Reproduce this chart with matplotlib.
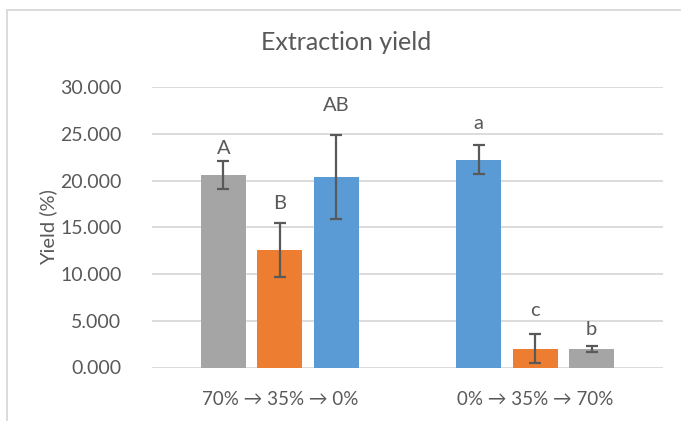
import matplotlib
matplotlib.use("Agg")
import matplotlib.pyplot as plt
from matplotlib.patches import Rectangle
import numpy as np

plt.rcParams['font.family'] = ['Lato', 'DejaVu Sans']

# Extraction sequences (x categories)
categories = ["70% \u2192 35% \u2192 0%", "0% \u2192 35% \u2192 70%"]

# Yield of each step within a sequence, in the order the steps were run
step_yield = [
    [20.60, 12.60, 20.35],   # 70% -> 35% -> 0%
    [22.20, 2.00, 1.95],     # 0% -> 35% -> 70%
]
step_sd = [
    [1.50, 2.90, 4.50],
    [1.55, 1.55, 0.33],
]
# Ethanol concentration of each step (determines the bar colour)
step_solvent = [
    ["70%", "35%", "0%"],
    ["0%", "35%", "70%"],
]
# Significance letters and the height at which they are written
letters = [
    ["A", "B", "AB"],
    ["a", "c", "b"],
]
letter_y = [
    [23.4, 17.5, 28.0],
    [26.1, 6.1, 4.1],
]

yticks = [0, 5, 10, 15, 20, 25, 30]

colors = {"70%": "#A5A5A5", "35%": "#ED7D31", "0%": "#5B9BD5"}
text_color = "#595959"
grid_color = "#D9D9D9"

fig = plt.figure(figsize=(6.81, 4.21), dpi=100)
fig.patches.append(Rectangle((7 / 681, -0.05), 1.0, 1 - 10 / 421 + 0.05,
                             transform=fig.transFigure, fill=False,
                             edgecolor=grid_color, linewidth=1.3))

ax = fig.add_axes([152 / 681, 1 - 367.5 / 421, (663 - 152) / 681, (367.5 - 87) / 421])

width = 0.176
offset = 0.221
x = np.arange(len(categories))
for gi, xc in enumerate(x):
    for si in range(3):
        xb = xc + (si - 1) * offset
        ax.bar(xb, step_yield[gi][si], width=width,
               color=colors[step_solvent[gi][si]], zorder=3)
        ax.errorbar(xb, step_yield[gi][si], yerr=step_sd[gi][si], fmt='none',
                    ecolor="#595959", elinewidth=1.6, capsize=4.5, capthick=1.6,
                    zorder=4)
        ax.text(xb, letter_y[gi][si], letters[gi][si], ha='center', va='center',
                fontsize=14.5, color=text_color, zorder=5)

ax.set_xlim(-0.5, 1.5)
ax.set_ylim(0, 30)
ax.set_yticks(yticks)
ax.set_yticklabels([f"{v:.3f}" for v in yticks])
ax.set_xticks(x)
ax.set_xticklabels(categories, fontsize=13.5)
ax.tick_params(axis='both', length=0, colors=text_color)
ax.tick_params(axis='y', pad=22, labelsize=14)
ax.tick_params(axis='x', pad=17)
ax.grid(axis='y', color=grid_color, linewidth=1.3, zorder=0)
ax.set_axisbelow(True)
for s in ax.spines.values():
    s.set_visible(False)

ax.set_ylabel("Yield (%)", fontsize=14.5, color=text_color)
ax.yaxis.set_label_coords(-0.186, 0.5)
fig.text(346 / 681, 1 - 43 / 421, "Extraction yield", ha='center', va='center',
         fontsize=18, color=text_color)

fig.savefig("out.png", dpi=100, facecolor="white")
